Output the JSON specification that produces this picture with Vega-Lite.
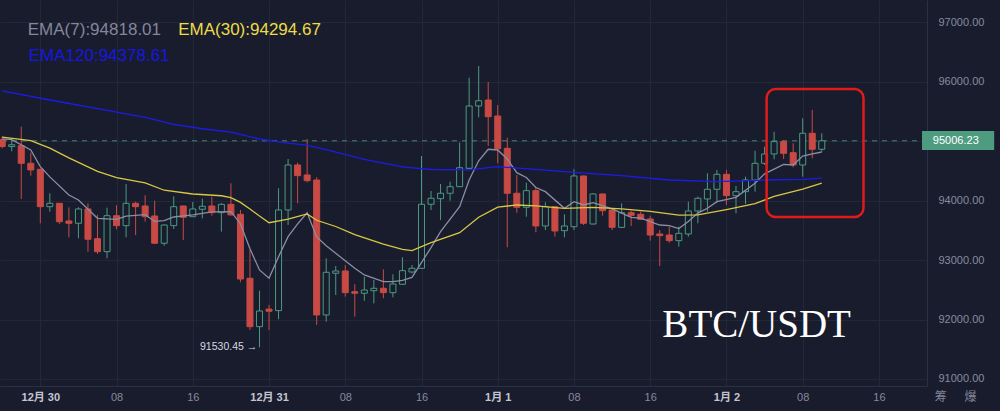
{
  "$schema": "https://vega.github.io/schema/vega-lite/v6.json",
  "width": 927,
  "height": 386,
  "autosize": "none",
  "padding": {"left": 0, "top": 0, "right": 73, "bottom": 25},
  "background": "#191c2c",
  "config": {"view": {"stroke": null}},
  "datasets": {
    "candles": [
      {"t":"2024-12-29T20:00Z","o":95030,"h":95080,"l":94880,"c":94910},
      {"t":"2024-12-29T21:00Z","o":94910,"h":95040,"l":94830,"c":94940},
      {"t":"2024-12-29T22:00Z","o":94924,"h":95244,"l":94028,"c":94628},
      {"t":"2024-12-29T23:00Z","o":94628,"h":94807,"l":94420,"c":94516},
      {"t":"2024-12-30T00:00Z","o":94527,"h":94540,"l":93619,"c":93898},
      {"t":"2024-12-30T01:00Z","o":93898,"h":94124,"l":93814,"c":93955},
      {"t":"2024-12-30T02:00Z","o":93955,"h":93960,"l":93607,"c":93646},
      {"t":"2024-12-30T03:00Z","o":93658,"h":93888,"l":93384,"c":93619},
      {"t":"2024-12-30T04:00Z","o":93619,"h":93888,"l":93367,"c":93860},
      {"t":"2024-12-30T05:00Z","o":93860,"h":93955,"l":93142,"c":93350},
      {"t":"2024-12-30T06:00Z","o":93360,"h":93759,"l":93103,"c":93142},
      {"t":"2024-12-30T07:00Z","o":93142,"h":93881,"l":93030,"c":93747},
      {"t":"2024-12-30T08:00Z","o":93747,"h":93922,"l":93518,"c":93579},
      {"t":"2024-12-30T09:00Z","o":93579,"h":94280,"l":93384,"c":93955},
      {"t":"2024-12-30T10:00Z","o":93955,"h":93982,"l":93422,"c":93898},
      {"t":"2024-12-30T11:00Z","o":93910,"h":94090,"l":93646,"c":93730},
      {"t":"2024-12-30T12:00Z","o":93742,"h":94000,"l":93271,"c":93283},
      {"t":"2024-12-30T13:00Z","o":93283,"h":93600,"l":93242,"c":93590},
      {"t":"2024-12-30T14:00Z","o":93579,"h":94073,"l":93523,"c":93898},
      {"t":"2024-12-30T15:00Z","o":93910,"h":93915,"l":93338,"c":93720},
      {"t":"2024-12-30T16:00Z","o":93730,"h":93977,"l":93725,"c":93860},
      {"t":"2024-12-30T17:00Z","o":93855,"h":94033,"l":93703,"c":93905},
      {"t":"2024-12-30T18:00Z","o":93910,"h":94067,"l":93747,"c":93798},
      {"t":"2024-12-30T19:00Z","o":93798,"h":93955,"l":93478,"c":93938},
      {"t":"2024-12-30T20:00Z","o":93938,"h":94292,"l":93755,"c":93759},
      {"t":"2024-12-30T21:00Z","o":93770,"h":93843,"l":92626,"c":92682},
      {"t":"2024-12-30T22:00Z","o":92694,"h":93170,"l":91825,"c":91880},
      {"t":"2024-12-30T23:00Z","o":91880,"h":92485,"l":91530.45,"c":92144},
      {"t":"2024-12-31T00:00Z","o":92175,"h":92245,"l":91825,"c":92140},
      {"t":"2024-12-31T01:00Z","o":92150,"h":94208,"l":92005,"c":93843},
      {"t":"2024-12-31T02:00Z","o":93843,"h":94700,"l":93591,"c":94600},
      {"t":"2024-12-31T03:00Z","o":94600,"h":94638,"l":93955,"c":94420},
      {"t":"2024-12-31T04:00Z","o":94432,"h":95037,"l":94309,"c":94336},
      {"t":"2024-12-31T05:00Z","o":94347,"h":94393,"l":91909,"c":92077},
      {"t":"2024-12-31T06:00Z","o":92077,"h":93030,"l":91964,"c":92795},
      {"t":"2024-12-31T07:00Z","o":92778,"h":92901,"l":92413,"c":92817},
      {"t":"2024-12-31T08:00Z","o":92817,"h":92918,"l":92385,"c":92452},
      {"t":"2024-12-31T09:00Z","o":92468,"h":92593,"l":92048,"c":92442},
      {"t":"2024-12-31T10:00Z","o":92442,"h":92721,"l":92317,"c":92497},
      {"t":"2024-12-31T11:00Z","o":92485,"h":92665,"l":92273,"c":92526},
      {"t":"2024-12-31T12:00Z","o":92526,"h":92845,"l":92357,"c":92452},
      {"t":"2024-12-31T13:00Z","o":92452,"h":92761,"l":92374,"c":92598},
      {"t":"2024-12-31T14:00Z","o":92593,"h":93047,"l":92590,"c":92822},
      {"t":"2024-12-31T15:00Z","o":92800,"h":92918,"l":92778,"c":92862},
      {"t":"2024-12-31T16:00Z","o":92862,"h":94751,"l":92850,"c":93939},
      {"t":"2024-12-31T17:00Z","o":93939,"h":94162,"l":93843,"c":94040},
      {"t":"2024-12-31T18:00Z","o":94033,"h":94280,"l":93675,"c":94124},
      {"t":"2024-12-31T19:00Z","o":94124,"h":94319,"l":93999,"c":94235},
      {"t":"2024-12-31T20:00Z","o":94235,"h":94975,"l":94230,"c":94554},
      {"t":"2024-12-31T21:00Z","o":94544,"h":96068,"l":94540,"c":95592},
      {"t":"2024-12-31T22:00Z","o":95592,"h":96265,"l":95402,"c":95681},
      {"t":"2024-12-31T23:00Z","o":95693,"h":95996,"l":94919,"c":95412},
      {"t":"2025-01-01T00:00Z","o":95424,"h":95609,"l":94628,"c":94874},
      {"t":"2025-01-01T01:00Z","o":94880,"h":95059,"l":93215,"c":94124},
      {"t":"2025-01-01T02:00Z","o":94124,"h":94432,"l":93797,"c":93888},
      {"t":"2025-01-01T03:00Z","o":93888,"h":94302,"l":93730,"c":94168},
      {"t":"2025-01-01T04:00Z","o":94168,"h":94225,"l":93468,"c":93574},
      {"t":"2025-01-01T05:00Z","o":93574,"h":93972,"l":93506,"c":93898},
      {"t":"2025-01-01T06:00Z","o":93898,"h":93905,"l":93394,"c":93490},
      {"t":"2025-01-01T07:00Z","o":93495,"h":93770,"l":93384,"c":93574},
      {"t":"2025-01-01T08:00Z","o":93562,"h":94527,"l":93506,"c":94415},
      {"t":"2025-01-01T09:00Z","o":94415,"h":94420,"l":93591,"c":93619},
      {"t":"2025-01-01T10:00Z","o":93607,"h":94124,"l":93600,"c":94112},
      {"t":"2025-01-01T11:00Z","o":94112,"h":94115,"l":93747,"c":93831},
      {"t":"2025-01-01T12:00Z","o":93843,"h":93850,"l":93506,"c":93551},
      {"t":"2025-01-01T13:00Z","o":93551,"h":93955,"l":93545,"c":93797},
      {"t":"2025-01-01T14:00Z","o":93797,"h":93831,"l":93574,"c":93753},
      {"t":"2025-01-01T15:00Z","o":93770,"h":93815,"l":93680,"c":93686},
      {"t":"2025-01-01T16:00Z","o":93692,"h":93747,"l":93327,"c":93422},
      {"t":"2025-01-01T17:00Z","o":93439,"h":93506,"l":92901,"c":93411},
      {"t":"2025-01-01T18:00Z","o":93422,"h":93562,"l":93293,"c":93327},
      {"t":"2025-01-01T19:00Z","o":93327,"h":93562,"l":93226,"c":93450},
      {"t":"2025-01-01T20:00Z","o":93439,"h":93982,"l":93394,"c":93826},
      {"t":"2025-01-01T21:00Z","o":93826,"h":94067,"l":93619,"c":94040},
      {"t":"2025-01-01T22:00Z","o":94028,"h":94460,"l":93814,"c":94191},
      {"t":"2025-01-01T23:00Z","o":94191,"h":94516,"l":93965,"c":94443},
      {"t":"2025-01-02T00:00Z","o":94443,"h":94516,"l":93927,"c":94083},
      {"t":"2025-01-02T01:00Z","o":94083,"h":94246,"l":93787,"c":94151},
      {"t":"2025-01-02T02:00Z","o":94151,"h":94403,"l":93944,"c":94347},
      {"t":"2025-01-02T03:00Z","o":94347,"h":94840,"l":94151,"c":94628},
      {"t":"2025-01-02T04:00Z","o":94628,"h":94908,"l":94600,"c":94785},
      {"t":"2025-01-02T05:00Z","o":94785,"h":95160,"l":94695,"c":94992},
      {"t":"2025-01-02T06:00Z","o":94992,"h":95020,"l":94700,"c":94796},
      {"t":"2025-01-02T07:00Z","o":94807,"h":94965,"l":94561,"c":94600},
      {"t":"2025-01-02T08:00Z","o":94600,"h":95385,"l":94403,"c":95133},
      {"t":"2025-01-02T09:00Z","o":95133,"h":95525,"l":94712,"c":94864},
      {"t":"2025-01-02T10:00Z","o":94864,"h":95133,"l":94823,"c":95006.23}
    ],
    "ema": [
      {"t":"2024-12-29T20:00Z","s":"EMA7","v":95040},
      {"t":"2024-12-29T21:00Z","s":"EMA7","v":95025},
      {"t":"2024-12-29T23:00Z","s":"EMA7","v":94852},
      {"t":"2024-12-30T00:00Z","s":"EMA7","v":94571},
      {"t":"2024-12-30T01:00Z","s":"EMA7","v":94400},
      {"t":"2024-12-30T03:00Z","s":"EMA7","v":94095},
      {"t":"2024-12-30T04:00Z","s":"EMA7","v":94011},
      {"t":"2024-12-30T06:00Z","s":"EMA7","v":93703},
      {"t":"2024-12-30T08:00Z","s":"EMA7","v":93686},
      {"t":"2024-12-30T09:00Z","s":"EMA7","v":93740},
      {"t":"2024-12-30T11:00Z","s":"EMA7","v":93765},
      {"t":"2024-12-30T12:00Z","s":"EMA7","v":93650},
      {"t":"2024-12-30T13:00Z","s":"EMA7","v":93663},
      {"t":"2024-12-30T14:00Z","s":"EMA7","v":93725},
      {"t":"2024-12-30T16:00Z","s":"EMA7","v":93759},
      {"t":"2024-12-30T18:00Z","s":"EMA7","v":93810},
      {"t":"2024-12-30T20:00Z","s":"EMA7","v":93815},
      {"t":"2024-12-30T21:00Z","s":"EMA7","v":93612},
      {"t":"2024-12-30T22:00Z","s":"EMA7","v":93190},
      {"t":"2024-12-30T23:00Z","s":"EMA7","v":92834},
      {"t":"2024-12-31T00:00Z","s":"EMA7","v":92694},
      {"t":"2024-12-31T01:00Z","s":"EMA7","v":93057},
      {"t":"2024-12-31T02:00Z","s":"EMA7","v":93394},
      {"t":"2024-12-31T03:00Z","s":"EMA7","v":93610},
      {"t":"2024-12-31T04:00Z","s":"EMA7","v":93797},
      {"t":"2024-12-31T05:00Z","s":"EMA7","v":93390},
      {"t":"2024-12-31T06:00Z","s":"EMA7","v":93240},
      {"t":"2024-12-31T07:00Z","s":"EMA7","v":93114},
      {"t":"2024-12-31T09:00Z","s":"EMA7","v":92862},
      {"t":"2024-12-31T10:00Z","s":"EMA7","v":92750},
      {"t":"2024-12-31T12:00Z","s":"EMA7","v":92637},
      {"t":"2024-12-31T13:00Z","s":"EMA7","v":92637},
      {"t":"2024-12-31T14:00Z","s":"EMA7","v":92660},
      {"t":"2024-12-31T15:00Z","s":"EMA7","v":92710},
      {"t":"2024-12-31T17:00Z","s":"EMA7","v":93210},
      {"t":"2024-12-31T18:00Z","s":"EMA7","v":93480},
      {"t":"2024-12-31T20:00Z","s":"EMA7","v":93898},
      {"t":"2024-12-31T21:00Z","s":"EMA7","v":94347},
      {"t":"2024-12-31T22:00Z","s":"EMA7","v":94670},
      {"t":"2024-12-31T23:00Z","s":"EMA7","v":94864},
      {"t":"2025-01-01T00:00Z","s":"EMA7","v":94852},
      {"t":"2025-01-01T01:00Z","s":"EMA7","v":94700},
      {"t":"2025-01-01T02:00Z","s":"EMA7","v":94470},
      {"t":"2025-01-01T03:00Z","s":"EMA7","v":94390},
      {"t":"2025-01-01T04:00Z","s":"EMA7","v":94220},
      {"t":"2025-01-01T05:00Z","s":"EMA7","v":94151},
      {"t":"2025-01-01T07:00Z","s":"EMA7","v":93871},
      {"t":"2025-01-01T08:00Z","s":"EMA7","v":93982},
      {"t":"2025-01-01T09:00Z","s":"EMA7","v":93927},
      {"t":"2025-01-01T10:00Z","s":"EMA7","v":93966},
      {"t":"2025-01-01T12:00Z","s":"EMA7","v":93860},
      {"t":"2025-01-01T14:00Z","s":"EMA7","v":93720},
      {"t":"2025-01-01T15:00Z","s":"EMA7","v":93705},
      {"t":"2025-01-01T17:00Z","s":"EMA7","v":93590},
      {"t":"2025-01-01T18:00Z","s":"EMA7","v":93580},
      {"t":"2025-01-01T19:00Z","s":"EMA7","v":93530},
      {"t":"2025-01-01T20:00Z","s":"EMA7","v":93650},
      {"t":"2025-01-01T21:00Z","s":"EMA7","v":93790},
      {"t":"2025-01-01T22:00Z","s":"EMA7","v":93871},
      {"t":"2025-01-01T23:00Z","s":"EMA7","v":93982},
      {"t":"2025-01-02T01:00Z","s":"EMA7","v":94056},
      {"t":"2025-01-02T03:00Z","s":"EMA7","v":94292},
      {"t":"2025-01-02T04:00Z","s":"EMA7","v":94450},
      {"t":"2025-01-02T06:00Z","s":"EMA7","v":94611},
      {"t":"2025-01-02T07:00Z","s":"EMA7","v":94600},
      {"t":"2025-01-02T08:00Z","s":"EMA7","v":94751},
      {"t":"2025-01-02T09:00Z","s":"EMA7","v":94785},
      {"t":"2025-01-02T10:00Z","s":"EMA7","v":94818.01},
      {"t":"2024-12-29T20:00Z","s":"EMA30","v":95070},
      {"t":"2024-12-29T23:00Z","s":"EMA30","v":95010},
      {"t":"2024-12-30T01:00Z","s":"EMA30","v":94882},
      {"t":"2024-12-30T03:00Z","s":"EMA30","v":94720},
      {"t":"2024-12-30T06:00Z","s":"EMA30","v":94494},
      {"t":"2024-12-30T08:00Z","s":"EMA30","v":94386},
      {"t":"2024-12-30T11:00Z","s":"EMA30","v":94297},
      {"t":"2024-12-30T13:00Z","s":"EMA30","v":94175},
      {"t":"2024-12-30T16:00Z","s":"EMA30","v":94112},
      {"t":"2024-12-30T19:00Z","s":"EMA30","v":94082},
      {"t":"2024-12-30T20:00Z","s":"EMA30","v":94050},
      {"t":"2024-12-30T21:00Z","s":"EMA30","v":93970},
      {"t":"2024-12-30T22:00Z","s":"EMA30","v":93860},
      {"t":"2024-12-30T23:00Z","s":"EMA30","v":93740},
      {"t":"2024-12-31T00:00Z","s":"EMA30","v":93629},
      {"t":"2024-12-31T02:00Z","s":"EMA30","v":93690},
      {"t":"2024-12-31T04:00Z","s":"EMA30","v":93776},
      {"t":"2024-12-31T05:00Z","s":"EMA30","v":93670},
      {"t":"2024-12-31T07:00Z","s":"EMA30","v":93565},
      {"t":"2024-12-31T09:00Z","s":"EMA30","v":93430},
      {"t":"2024-12-31T12:00Z","s":"EMA30","v":93270},
      {"t":"2024-12-31T14:00Z","s":"EMA30","v":93180},
      {"t":"2024-12-31T15:00Z","s":"EMA30","v":93158},
      {"t":"2024-12-31T17:00Z","s":"EMA30","v":93295},
      {"t":"2024-12-31T20:00Z","s":"EMA30","v":93461},
      {"t":"2024-12-31T22:00Z","s":"EMA30","v":93720},
      {"t":"2025-01-01T00:00Z","s":"EMA30","v":93890},
      {"t":"2025-01-01T02:00Z","s":"EMA30","v":93927},
      {"t":"2025-01-01T04:00Z","s":"EMA30","v":93912},
      {"t":"2025-01-01T07:00Z","s":"EMA30","v":93870},
      {"t":"2025-01-01T10:00Z","s":"EMA30","v":93888},
      {"t":"2025-01-01T13:00Z","s":"EMA30","v":93860},
      {"t":"2025-01-01T16:00Z","s":"EMA30","v":93820},
      {"t":"2025-01-01T19:00Z","s":"EMA30","v":93755},
      {"t":"2025-01-01T21:00Z","s":"EMA30","v":93759},
      {"t":"2025-01-02T00:00Z","s":"EMA30","v":93850},
      {"t":"2025-01-02T03:00Z","s":"EMA30","v":93950},
      {"t":"2025-01-02T05:00Z","s":"EMA30","v":94070},
      {"t":"2025-01-02T08:00Z","s":"EMA30","v":94195},
      {"t":"2025-01-02T10:00Z","s":"EMA30","v":94294.67},
      {"t":"2024-12-29T20:00Z","s":"EMA120","v":95845},
      {"t":"2024-12-30T01:00Z","s":"EMA120","v":95693},
      {"t":"2024-12-30T06:00Z","s":"EMA120","v":95547},
      {"t":"2024-12-30T11:00Z","s":"EMA120","v":95399},
      {"t":"2024-12-30T14:00Z","s":"EMA120","v":95281},
      {"t":"2024-12-30T17:00Z","s":"EMA120","v":95209},
      {"t":"2024-12-30T20:00Z","s":"EMA120","v":95151},
      {"t":"2024-12-30T23:00Z","s":"EMA120","v":95037},
      {"t":"2024-12-31T01:00Z","s":"EMA120","v":94990},
      {"t":"2024-12-31T04:00Z","s":"EMA120","v":94931},
      {"t":"2024-12-31T06:00Z","s":"EMA120","v":94857},
      {"t":"2024-12-31T10:00Z","s":"EMA120","v":94696},
      {"t":"2024-12-31T14:00Z","s":"EMA120","v":94569},
      {"t":"2024-12-31T17:00Z","s":"EMA120","v":94524},
      {"t":"2024-12-31T21:00Z","s":"EMA120","v":94516},
      {"t":"2025-01-01T00:00Z","s":"EMA120","v":94571},
      {"t":"2025-01-01T04:00Z","s":"EMA120","v":94527},
      {"t":"2025-01-01T08:00Z","s":"EMA120","v":94477},
      {"t":"2025-01-01T13:00Z","s":"EMA120","v":94420},
      {"t":"2025-01-01T18:00Z","s":"EMA120","v":94347},
      {"t":"2025-01-01T23:00Z","s":"EMA120","v":94319},
      {"t":"2025-01-02T04:00Z","s":"EMA120","v":94347},
      {"t":"2025-01-02T08:00Z","s":"EMA120","v":94359},
      {"t":"2025-01-02T10:00Z","s":"EMA120","v":94378.61}
    ]
  },
  "layer": [
    {
      "data": {"name": "candles"},
      "mark": {"type": "rule", "strokeWidth": 1, "clip": true},
      "encoding": {
        "x": {
          "field": "t", "type": "temporal", "title": null,
          "scale": {"type": "utc", "domain": [1735503460000, 1735849870000]},
          "axis": {
            "values": [1735516800000, 1735545600000, 1735574400000, 1735603200000, 1735632000000, 1735660800000, 1735689600000, 1735718400000, 1735747200000, 1735776000000, 1735804800000, 1735833600000],
            "labelExpr": "utchours(datum.value) == 0 ? (utcmonth(datum.value) + 1) + '月 ' + utcdate(datum.value) : utcFormat(datum.value, '%H')",
            "grid": true, "gridColor": "#232839", "ticks": false,
            "domain": true, "domainColor": "#2b3042",
            "labelColor": {"condition": {"test": "utchours(datum.value) == 0", "value": "#c3c6d2"}, "value": "#858a9e"},
            "labelFontWeight": {"condition": {"test": "utchours(datum.value) == 0", "value": "bold"}, "value": "normal"},
            "labelFont": "Liberation Sans, Noto Sans CJK SC",
            "labelFontSize": 11, "labelPadding": 5, "labelFlush": false, "labelOverlap": false
          }
        },
        "y": {
          "field": "l", "type": "quantitative", "title": null,
          "scale": {"domain": [90882, 97375], "nice": false, "zero": false},
          "axis": {
            "orient": "right",
            "values": [91000, 91500, 92000, 92500, 93000, 93500, 94000, 94500, 95000, 95500, 96000, 96500, 97000],
            "labelExpr": "datum.value == 95000 ? '' : format(datum.value, '.2f')",
            "grid": true, "gridColor": "#232839", "ticks": false,
            "domain": true, "domainColor": "#2b3042",
            "labelColor": "#868ba0", "labelFont": "Liberation Sans", "labelFontSize": 11,
            "labelPadding": 11, "labelAlign": "left", "labelBaseline": "middle"
          }
        },
        "y2": {"field": "h"},
        "color": {"condition": {"test": "datum.c < datum.o", "value": "#c94a44"}, "value": "#4a9a80"}
      }
    },
    {
      "data": {"values": [{"p": 95006.23}]},
      "mark": {"type": "rule", "stroke": "#3f8a74", "strokeDash": [5, 5], "strokeWidth": 1},
      "encoding": {"y": {"field": "p", "type": "quantitative"}}
    },
    {
      "data": {"name": "candles"},
      "mark": {"type": "bar", "size": 6, "strokeWidth": 1, "clip": true},
      "encoding": {
        "x": {"field": "t", "type": "temporal"},
        "y": {"field": "o", "type": "quantitative"},
        "y2": {"field": "c"},
        "fill": {"condition": {"test": "datum.c < datum.o", "value": "#c94a44"}, "value": "#191c2c"},
        "stroke": {"condition": {"test": "datum.c < datum.o", "value": "#c94a44"}, "value": "#4a9a80"}
      }
    },
    {
      "data": {"name": "ema"},
      "mark": {"type": "line", "strokeWidth": 1.3, "clip": true},
      "encoding": {
        "x": {"field": "t", "type": "temporal"},
        "y": {"field": "v", "type": "quantitative"},
        "color": {"field": "s", "type": "nominal", "legend": null,
          "scale": {"domain": ["EMA7", "EMA30", "EMA120"], "range": ["#8a8ea6", "#d8c844", "#1c1ce8"]}}
      }
    },
    {
      "data": {"values": [{}]},
      "mark": {"type": "rect", "filled": false, "stroke": "#e01b1b", "strokeWidth": 2.5, "cornerRadius": 9},
      "encoding": {
        "x": {"datum": 1735791174000, "type": "temporal"},
        "x2": {"datum": 1735827774000},
        "y": {"datum": 95878, "type": "quantitative"},
        "y2": {"datum": 93725}
      }
    },
    {
      "data": {"values": [{}]},
      "mark": {"type": "text", "align": "left", "baseline": "middle", "font": "Liberation Sans", "fontSize": 17, "color": "#82879c"},
      "encoding": {
        "x": {"datum": 1735512060000, "type": "temporal"},
        "y": {"datum": 96870, "type": "quantitative"},
        "text": {"value": "EMA(7):94818.01"}
      }
    },
    {
      "data": {"values": [{}]},
      "mark": {"type": "text", "align": "left", "baseline": "middle", "font": "Liberation Sans", "fontSize": 17, "color": "#ecdc48"},
      "encoding": {
        "x": {"datum": 1735568880000, "type": "temporal"},
        "y": {"datum": 96870, "type": "quantitative"},
        "text": {"value": "EMA(30):94294.67"}
      }
    },
    {
      "data": {"values": [{}]},
      "mark": {"type": "text", "align": "left", "baseline": "middle", "font": "Liberation Sans", "fontSize": 17, "color": "#1717e0"},
      "encoding": {
        "x": {"datum": 1735512420000, "type": "temporal"},
        "y": {"datum": 96433, "type": "quantitative"},
        "text": {"value": "EMA120:94378.61"}
      }
    },
    {
      "data": {"values": [{}]},
      "mark": {"type": "text", "align": "center", "baseline": "alphabetic", "font": "Liberation Serif", "fontSize": 39, "color": "#ffffff"},
      "encoding": {
        "x": {"datum": 1735787400000, "type": "temporal"},
        "y": {"datum": 91712, "type": "quantitative"},
        "text": {"value": "BTC/USDT"}
      }
    },
    {
      "data": {"values": [{}]},
      "mark": {"type": "text", "align": "right", "baseline": "middle", "font": "Liberation Sans", "fontSize": 10.5, "color": "#d4d7e0"},
      "encoding": {
        "x": {"datum": 1735598752000, "type": "temporal"},
        "y": {"datum": 91530.45, "type": "quantitative"},
        "text": {"value": "91530.45 →"}
      }
    },
    {
      "data": {"values": [{}]},
      "mark": {"type": "rect", "fill": "#4d9c80"},
      "encoding": {
        "x": {"datum": 1735849870000, "type": "temporal"},
        "x2": {"datum": 1735877140000},
        "y": {"datum": 95171, "type": "quantitative"},
        "y2": {"datum": 94852}
      }
    },
    {
      "data": {"values": [{}]},
      "mark": {"type": "text", "align": "left", "baseline": "middle", "font": "Liberation Sans", "fontSize": 11, "color": "#ffffff"},
      "encoding": {
        "x": {"datum": 1735853974000, "type": "temporal"},
        "y": {"datum": 95006.23, "type": "quantitative"},
        "text": {"value": "95006.23"}
      }
    },
    {
      "data": {"values": [{}]},
      "mark": {"type": "text", "align": "center", "baseline": "middle", "font": "Noto Sans CJK SC", "fontSize": 12, "color": "#80859a"},
      "encoding": {
        "x": {"datum": 1735856965600, "type": "temporal"},
        "y": {"datum": 90697, "type": "quantitative"},
        "text": {"value": "筹"}
      }
    },
    {
      "data": {"values": [{}]},
      "mark": {"type": "text", "align": "center", "baseline": "middle", "font": "Noto Sans CJK SC", "fontSize": 12, "color": "#80859a"},
      "encoding": {
        "x": {"datum": 1735868176000, "type": "temporal"},
        "y": {"datum": 90697, "type": "quantitative"},
        "text": {"value": "爆"}
      }
    }
  ]
}
